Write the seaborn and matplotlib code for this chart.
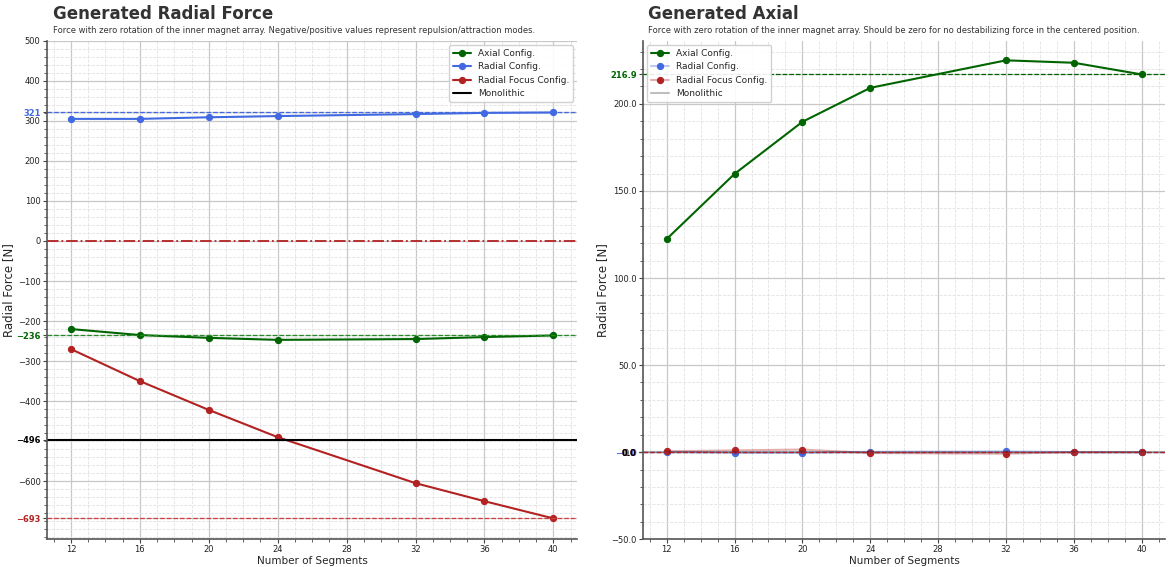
import numpy as np
import pandas as pd
import matplotlib
matplotlib.use("Agg")
import matplotlib.pyplot as plt
from matplotlib.ticker import MultipleLocator, FixedLocator
import seaborn as sns

# segment counts (no 28 segment run)
segments = [12, 16, 20, 24, 32, 36, 40]

# radial force [N]
radial_axial_cfg = [-220, -235, -242, -247, -245, -240, -236]
radial_radial_cfg = [305, 305, 309, 312, 317, 320, 321]
radial_focus_cfg = [-270, -350, -422, -490, -605, -650, -693]
radial_mono = -496

# axial force [N]
axial_axial_cfg = [122.4, 159.8, 189.7, 209.2, 225.0, 223.6, 216.9]
axial_radial_cfg = [0.3, -0.4, -0.3, 0.2, 0.4, 0.0, -0.02]
axial_focus_cfg = [0.5, 1.0, 1.5, -0.5, -0.9, 0.0, 0.02]
axial_mono = 0.0

series_names = ["Axial Config.", "Radial Config.", "Radial Focus Config."]
colors = {"Axial Config.": "#006400", "Radial Config.": "#4169E1",
          "Radial Focus Config.": "#B22222"}

sns.set_style("white")
plt.rcParams["font.family"] = ["DejaVu Sans"]

fig = plt.figure(figsize=(11.69, 5.67), dpi=100)
ax1 = fig.add_axes([0.040, 0.049, 0.454, 0.879])
ax2 = fig.add_axes([0.550, 0.049, 0.447, 0.879])


def draw(ax, vals, alphas):
    for name, v, a in zip(series_names, vals, alphas):
        df = pd.DataFrame({"seg": segments, "force": v})
        c = matplotlib.colors.to_rgba(colors[name])
        sns.lineplot(data=df, x="seg", y="force", ax=ax, label=name,
                     color=c[:3] + (a,), marker="o", markersize=4.5,
                     mfc=colors[name], mec=colors[name], lw=1.5)


def style(ax, ymin, ymax, ymajor, yminor, fmt, extra):
    ax.set_ylim(ymin, ymax)
    ax.set_xticks([12, 16, 20, 24, 28, 32, 36, 40])
    ax.xaxis.set_minor_locator(MultipleLocator(1))
    base = list(np.arange(np.ceil(ymin / ymajor) * ymajor, ymax + 1e-6, ymajor))
    # drop round ticks that sit right on top of a highlighted value
    if ymajor == 100:
        base = [b for b in base if all(abs(b - e[0]) >= 10 for e in extra)]
    locs = base + [e[0] for e in extra]
    labels = [fmt(b) for b in base] + [e[1] for e in extra]
    ax.yaxis.set_major_locator(FixedLocator(locs))
    ax.set_yticklabels(labels)
    ax.yaxis.set_minor_locator(MultipleLocator(yminor))
    ax.tick_params(axis="both", which="major", labelsize=6, length=3, pad=1.5,
                   color="#444444", labelcolor="#222222")
    tls = ax.get_yticklabels()
    for i, e in enumerate(extra):
        t = tls[len(base) + i]
        t.set_color(e[2])
        t.set_fontweight("bold")
    ax.tick_params(axis="both", which="minor", length=2, color="#444444")
    ax.tick_params(axis="x", which="both", bottom=True)
    ax.tick_params(axis="y", which="both", left=True)
    ax.grid(True, which="major", color="#c8c8c8", lw=0.9)
    ax.grid(True, which="minor", color="#e2e2e2", lw=0.6, ls="--")
    ax.set_axisbelow(True)
    for s in ["top", "right"]:
        ax.spines[s].set_visible(False)
    for s in ["left", "bottom"]:
        ax.spines[s].set_color("#555555")
        ax.spines[s].set_linewidth(1.2)
    ax.set_xlabel("Number of Segments", fontsize=7.5, labelpad=1)
    ax.set_ylabel("Radial Force [N]", fontsize=8.5, labelpad=1)


def ifmt(v):
    return f"{int(round(v))}".replace("-", "\u2212")


def ffmt(v):
    return f"{v:.1f}".replace("-", "\u2212")


# left: radial force
draw(ax1, [radial_axial_cfg, radial_radial_cfg, radial_focus_cfg], [1, 1, 1])
ax1.axhline(radial_mono, color="black", lw=1.5, label="Monolithic")
ax1.axhline(0, color="#B22222", lw=1.3, ls="-.")
ax1.axhline(radial_radial_cfg[-1], color=colors["Radial Config."], lw=0.9, ls="--")
ax1.axhline(radial_axial_cfg[-1], color="#228B22", lw=0.9, ls="--")
ax1.axhline(radial_focus_cfg[-1], color="#D04040", lw=0.9, ls="--")
style(ax1, -745, 500, 100, 20, ifmt,
      [(radial_radial_cfg[-1], ifmt(radial_radial_cfg[-1]), colors["Radial Config."]),
       (radial_axial_cfg[-1], ifmt(radial_axial_cfg[-1]), colors["Axial Config."]),
       (radial_mono, ifmt(radial_mono), "black"),
       (radial_focus_cfg[-1], ifmt(radial_focus_cfg[-1]), colors["Radial Focus Config."])])
ax1.legend(loc="upper right", fontsize=6.5, frameon=True, framealpha=0.9)

# right: axial force
draw(ax2, [axial_axial_cfg, axial_radial_cfg, axial_focus_cfg], [1, 0.35, 0.35])
ax2.axhline(axial_mono, color="black", alpha=0.25, lw=1.5, label="Monolithic")
ax2.axhline(axial_axial_cfg[-1], color=colors["Axial Config."], lw=0.9, ls="--")
ax2.axhline(axial_radial_cfg[-1], color=colors["Radial Config."], lw=0.9, ls="--")
ax2.axhline(axial_focus_cfg[-1], color=colors["Radial Focus Config."], lw=0.9, ls="--")
style(ax2, -50, 236.2, 50, 10, ffmt,
      [(axial_axial_cfg[-1], ffmt(axial_axial_cfg[-1]), colors["Axial Config."]),
       (axial_radial_cfg[-1], ffmt(axial_radial_cfg[-1]), colors["Radial Config."]),
       (axial_focus_cfg[-1], ffmt(axial_focus_cfg[-1]), colors["Radial Focus Config."]),
       (axial_mono, ffmt(axial_mono), "black")])
ax2.legend(loc="upper left", fontsize=6.5, frameon=True, framealpha=0.9)

# titles
fig.text(0.045, 0.975, "Generated Radial Force", fontsize=12, fontweight="bold",
         color="#333333", va="center")
fig.text(0.045, 0.947, "Force with zero rotation of the inner magnet array. "
         "Negative/positive values represent repulsion/attraction modes.",
         fontsize=6, color="#333333", va="center")
fig.text(0.554, 0.975, "Generated Axial", fontsize=12, fontweight="bold",
         color="#333333", va="center")
fig.text(0.554, 0.947, "Force with zero rotation of the inner magnet array. "
         "Should be zero for no destabilizing force in the centered position.",
         fontsize=6, color="#333333", va="center")

fig.savefig("out.png", dpi=100)
